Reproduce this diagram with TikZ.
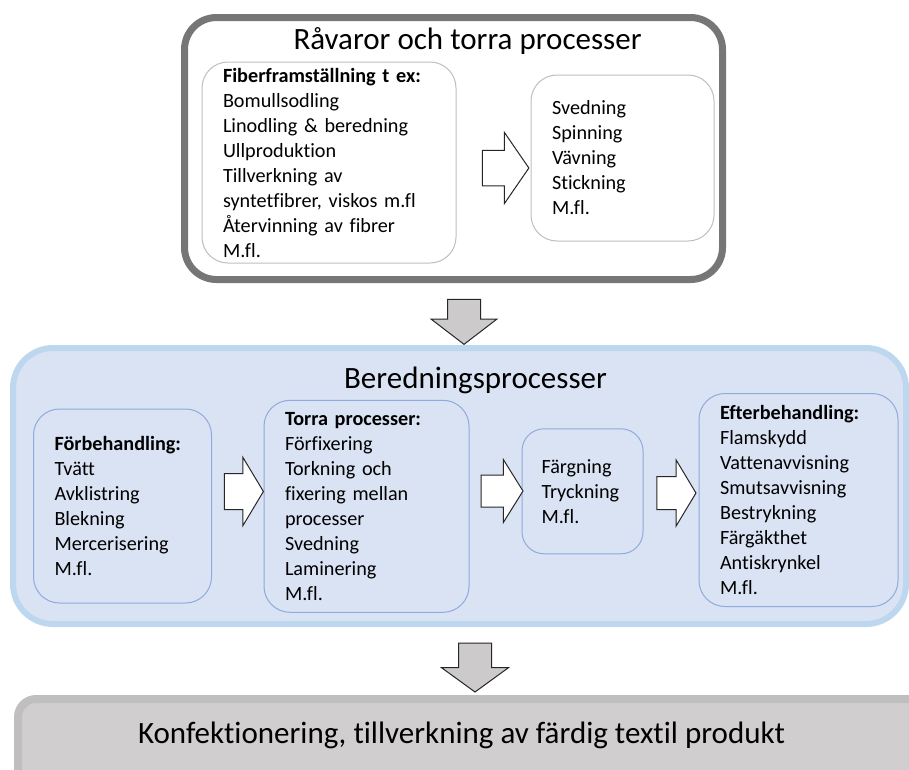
\documentclass[tikz,border=0pt]{standalone}
\usepackage{fontspec}
\setmainfont{Carlito}[Ligatures=NoCommon]
\usetikzlibrary{shapes.arrows, positioning}

\definecolor{framegray}{RGB}{118,118,118}
\definecolor{panelgray}{RGB}{191,191,191}
\definecolor{bluefill}{RGB}{218,227,243}
\definecolor{blueframe}{RGB}{189,215,238}
\definecolor{blueline}{RGB}{143,170,220}
\definecolor{arrowgray}{RGB}{204,202,202}
\definecolor{basegray}{RGB}{208,206,206}

\begin{document}
\begin{tikzpicture}[x=1pt, y=-1pt,
    bigtitle/.style={font=\fontsize{31}{36}\selectfont, inner sep=0pt},
    panel/.style={draw=#1, line width=1pt, rounded corners=26pt, align=left,
        inner xsep=21pt, inner ysep=0pt, font=\fontsize{20.2}{25}\selectfont},
    hollowarrow/.style={single arrow, draw=black!85, fill=white, line width=1pt,
        inner xsep=0pt, single arrow head indent=0pt},
    downarrow/.style={hollowarrow, fill=arrowgray, rotate=-90}]

    \clip (0,0) rectangle (909,769);

    % Råvaror och torra processer
    \draw[framegray, line width=7pt, rounded corners=32pt, fill=white]
        (184.5,17.5) rectangle (722.5,279.5);
    \node[bigtitle, anchor=base] (rawtitle) at (467.5,49) {Råvaror och torra processer};

    \node[panel=panelgray, minimum width=254pt, minimum height=201pt, text width=212pt]
        (fiber) at (329,162.5)
        {\textbf{Fiberframställning t ex:}\\Bomullsodling\\Linodling \& beredning\\Ullproduktion\\
         Tillverkning av\\syntetfibrer, viskos m.fl\\Återvinning av fibrer\\M.fl.};
    \node[panel=panelgray, minimum width=181pt, minimum height=166pt, text width=141pt]
        (spin) at (622.5,158)
        {Svedning\\Spinning\\Vävning\\Stickning\\M.fl.};
    \node[hollowarrow, minimum height=46.5pt, inner ysep=17.25pt,
        single arrow head extend=17.75pt, single arrow tip angle=111]
        (arr1) at (499.5,168) {};

    \node[downarrow, minimum height=45pt, inner ysep=16pt,
        single arrow head extend=16.5pt, single arrow tip angle=105]
        (down1) at (464,315.5) {};

    % Beredningsprocesser
    \draw[blueframe, line width=6pt, rounded corners=40pt, fill=bluefill]
        (13,348) rectangle (906,624);
    \node[bigtitle, anchor=base] (prepTitle) at (475.5,388.5) {Beredningsprocesser};

    \node[panel=blueline, minimum width=178pt, minimum height=194pt, text width=136pt]
        (pre) at (122.5,506)
        {\textbf{Förbehandling:}\\Tvätt\\Avklistring\\Blekning\\Mercerisering\\M.fl.};
    \node[panel=blueline, minimum width=205pt, minimum height=212pt, text width=163pt]
        (dry) at (366.5,506.3)
        {\textbf{Torra processer:}\\Förfixering\\Torkning och\\fixering mellan\\processer\\
         Svedning\\Laminering\\M.fl.};
    \node[panel=blueline, minimum width=121pt, minimum height=125pt, text width=82pt,
        inner xsep=19.5pt, rounded corners=22pt]
        (dye) at (582.5,491.3)
        {Färgning\\Tryckning\\M.fl.};
    \node[panel=blueline, minimum width=199pt, minimum height=213pt, text width=157pt]
        (post) at (798.5,500)
        {\textbf{Efterbehandling:}\\Flamskydd\\Vattenavvisning\\Smutsavvisning\\Bestrykning\\
         Färgäkthet\\Antiskrynkel\\M.fl.};

    \node[hollowarrow, minimum height=39pt, inner ysep=17.5pt,
        single arrow head extend=16pt, single arrow tip angle=118]
        (arr2) at (238.5,491.5) {};
    \node[hollowarrow, minimum height=42pt, inner ysep=15.5pt,
        single arrow head extend=15.5pt, single arrow tip angle=116]
        (arr3) at (497,491) {};
    \node[hollowarrow, minimum height=39pt, inner ysep=16pt,
        single arrow head extend=16.5pt, single arrow tip angle=118]
        (arr4) at (671.5,493) {};

    \node[downarrow, minimum height=49pt, inner ysep=16pt,
        single arrow head extend=17pt, single arrow tip angle=108]
        (down2) at (475,661.5) {};

    % Konfektionering
    \draw[panelgray, line width=8pt, rounded corners=18pt, fill=basegray]
        (18,699) rectangle (940,820);
    \node[bigtitle, anchor=base] (product) at (461.5,743)
        {Konfektionering, tillverkning av färdig textil produkt};
\end{tikzpicture}
\end{document}
